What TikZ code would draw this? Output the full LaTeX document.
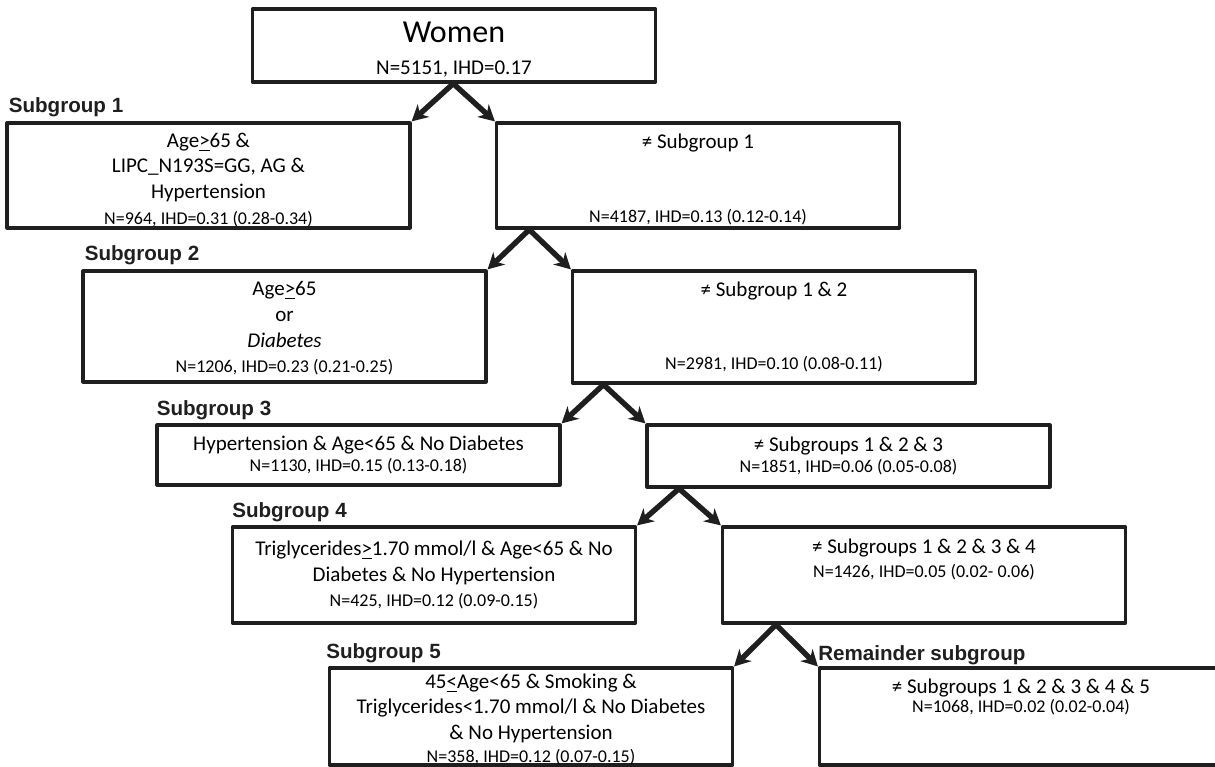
\documentclass[tikz,border=0pt]{standalone}
\usepackage{fontspec}
\setmainfont{Carlito}
\setsansfont{Liberation Sans}
\usepackage{tikz}
\usetikzlibrary{arrows.meta, calc}
\newcommand{\mainsz}{\fontsize{10.5}{12.8}\selectfont}
\newcommand{\smallsz}{\fontsize{9}{11}\selectfont}
\newcommand{\lift}[1]{\rule{0pt}{#1}}
\tikzset{
	box/.style={rectangle, draw=black!88, line width=1.6pt, line join=round, align=center, inner xsep=0pt, inner ysep=-5pt, minimum width=201.5pt, font=\mainsz},
	grplab/.style={anchor=base west, inner sep=0pt, font=\sffamily\bfseries\fontsize{10.3}{12}\selectfont, text=black!88},
	arr/.style={draw=black!88, line width=2.7pt, -{Stealth[length=8pt, width=8.5pt, inset=2.5pt]}}
}

\begin{document}
\begin{tikzpicture}[x=0.5pt, y=-0.5pt]
	\clip (0,0) rectangle (1215,766);
	% the tree boxes
	\node[box, minimum height=36.5pt] (women) at (454,45.5) {\lift{14.3pt}{\fontsize{16}{19}\selectfont Women}\\[3.5pt] N=5151, IHD=0.17};
	\node[box, minimum height=52.5pt] (sg1) at (208.5,175.5) {\lift{11.4pt}Age\underline{>}65 \&\\ LIPC\_N193S=GG, AG \&\\ Hypertension\\ {\smallsz N=964, IHD=0.31 (0.28-0.34)}};
	\node[box, minimum height=52.5pt] (ns1) at (698,175.5) {\lift{11.4pt}≠ Subgroup 1\\[24pt] {\smallsz N=4187, IHD=0.13 (0.12-0.14)}};
	\node[box, minimum height=55.5pt] (sg2) at (284.5,326.5) {\lift{9pt}Age\underline{>}65\\ or\\ \textit{Diabetes}\\ {\smallsz N=1206, IHD=0.23 (0.21-0.25)}};
	\node[box, minimum height=56pt] (ns2) at (774,327) {≠ Subgroup 1 \& 2\\[24pt] {\smallsz N=2981, IHD=0.10 (0.08-0.11)}};
	\node[box, minimum height=30pt] (sg3) at (358.5,455) {Hypertension \& Age<65 \& No Diabetes\\[-2pt] {\smallsz N=1130, IHD=0.15 (0.13-0.18)}};
	\node[box, minimum height=31pt] (ns3) at (848.5,456) {≠ Subgroups 1 \& 2 \& 3\\[-2pt] {\smallsz N=1851, IHD=0.06 (0.05-0.08)}};
	\node[box, minimum height=48pt] (sg4) at (434,575) {Triglycerides\underline{>}1.70 mmol/l \& Age<65 \& No\\ Diabetes \& No Hypertension\\ {\smallsz N=425, IHD=0.12 (0.09-0.15)}};
	\node[box, minimum height=48pt] (ns4) at (924,575) {≠ Subgroups 1 \& 2 \& 3 \& 4\\[-1pt] {\smallsz N=1426, IHD=0.05 (0.02- 0.06)}\\[4pt] \mbox{}};
	\node[box, minimum height=48.5pt] (sg5) at (531,716.5) {\lift{10pt}45\underline{<}Age<65 \& Smoking \&\\ Triglycerides<1.70 mmol/l \& No Diabetes\\ \& No Hypertension\\[-1.5pt] {\smallsz N=358, IHD=0.12 (0.07-0.15)}};
	\node[box, minimum height=48.5pt] (rem) at (1021,716.5) {≠ Subgroups 1 \& 2 \& 3 \& 4 \& 5\\[-3.5pt] {\smallsz N=1068, IHD=0.02 (0.02-0.04)}\\[8pt] \mbox{}};
	% group titles
	\node[grplab] (lab1) at ([shift={(3,-9)}]sg1.north west) {Subgroup 1};
	\node[grplab] (lab2) at ([shift={(3,-9)}]sg2.north west) {Subgroup 2};
	\node[grplab] (lab3) at ([shift={(1,-8)}]sg3.north west) {Subgroup 3};
	\node[grplab] (lab4) at ([shift={(1,-8)}]sg4.north west) {Subgroup 4};
	\node[grplab] (lab5) at ([shift={(-2,-8)}]sg5.north west) {Subgroup 5};
	\node[grplab] (labr) at ([shift={(0,-6)}]rem.north west) {Remainder subgroup};
	% splits
	\coordinate (f1) at ($(sg1.north east)!0.5!(ns1.north west)$);
	\coordinate (f2) at ($(sg2.north east)!0.5!(ns2.north west)$);
	\coordinate (f3) at ($(sg3.north east)!0.5!(ns3.north west)$);
	\coordinate (f4) at ($(sg4.north east)!0.5!(ns4.north west)$);
	\coordinate (f5) at ($(sg5.north east)!0.5!(rem.north west)$);
	\draw[arr] (f1 |- women.south) -- (sg1.north east);
	\draw[arr] (f1 |- women.south) -- (ns1.north west);
	\draw[arr] (f2 |- ns1.south) -- (sg2.north east);
	\draw[arr] (f2 |- ns1.south) -- (ns2.north west);
	\draw[arr] (f3 |- ns2.south) -- (sg3.north east);
	\draw[arr] (f3 |- ns2.south) -- (ns3.north west);
	\draw[arr] (f4 |- ns3.south) -- (sg4.north east);
	\draw[arr] (f4 |- ns3.south) -- (ns4.north west);
	\draw[arr] (f5 |- ns4.south) -- (sg5.north east);
	\draw[arr] (f5 |- ns4.south) -- (rem.north west);
\end{tikzpicture}
\end{document}
